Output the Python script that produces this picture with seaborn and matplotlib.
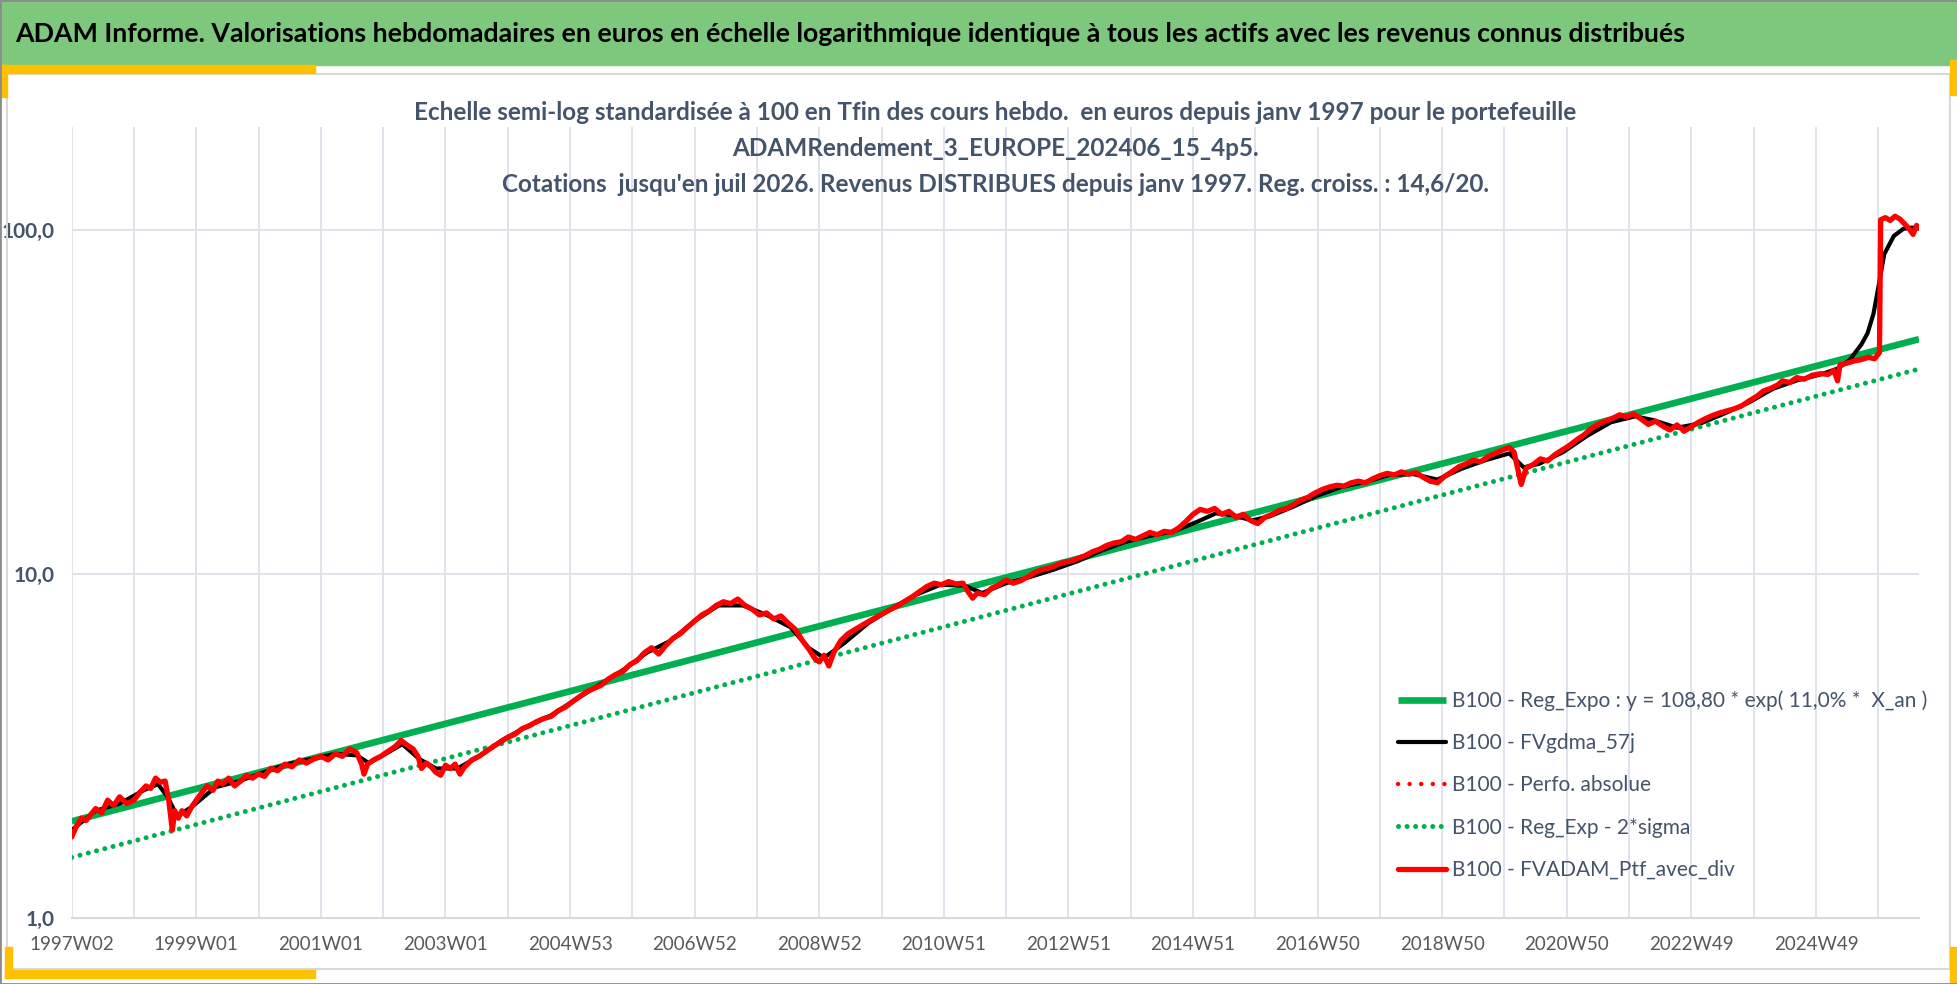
import numpy as np
import pandas as pd
import matplotlib
matplotlib.use('Agg')
import matplotlib.pyplot as plt
from matplotlib.patches import Rectangle
import seaborn as sns

# (semaine depuis 1997W02, valeur)
points_ptf = [
    (0, 1.72), (4, 1.85), (8, 1.95), (12, 1.92), (16, 2.0), (20, 2.08), (25, 2.02), (30, 2.2), (35, 2.12),
    (40, 2.25), (46, 2.15), (52, 2.2), (57, 2.32), (62, 2.42), (66, 2.38), (70, 2.55), (74, 2.48), (78, 2.5),
    (81, 2.2), (84, 1.8), (86, 2.05), (89, 1.95), (92, 2.05), (96, 1.98), (100, 2.1), (104, 2.2), (108, 2.3),
    (113, 2.42), (118, 2.35), (122, 2.5), (126, 2.45), (131, 2.55), (136, 2.42), (141, 2.5), (146, 2.6),
    (151, 2.55), (156, 2.62), (161, 2.58), (166, 2.72), (172, 2.68), (178, 2.8), (184, 2.75), (190, 2.88),
    (196, 2.82), (202, 2.9), (208, 2.95), (214, 2.88), (220, 3.0), (226, 2.95), (232, 3.1), (238, 3.02),
    (242, 2.8), (244, 2.62), (247, 2.8), (252, 2.88), (258, 2.95), (264, 3.05), (270, 3.15), (275, 3.28),
    (280, 3.18), (285, 3.1), (289, 2.95), (292, 2.72), (296, 2.82), (300, 2.75), (304, 2.65), (308, 2.6),
    (312, 2.78), (316, 2.72), (320, 2.8), (324, 2.62), (328, 2.75), (334, 2.88), (340, 2.95), (346, 3.05),
    (352, 3.15), (358, 3.25), (364, 3.35), (370, 3.42), (376, 3.55), (382, 3.62), (388, 3.72), (394, 3.8),
    (400, 3.85), (406, 4.0), (412, 4.1), (418, 4.25), (424, 4.4), (430, 4.55), (436, 4.65), (442, 4.75),
    (448, 4.95), (454, 5.1), (460, 5.2), (466, 5.45), (472, 5.6), (478, 5.9), (484, 6.1), (490, 5.85),
    (496, 6.2), (502, 6.5), (508, 6.7), (514, 7.0), (520, 7.3), (526, 7.6), (532, 7.8), (538, 8.1),
    (544, 8.3), (550, 8.2), (556, 8.45), (562, 8.1), (568, 7.9), (574, 7.6), (580, 7.7), (586, 7.4),
    (592, 7.55), (598, 7.2), (604, 6.9), (610, 6.4), (616, 6.0), (620, 5.7), (624, 5.55), (628, 5.8),
    (632, 5.4), (636, 5.9), (642, 6.4), (648, 6.7), (654, 6.9), (660, 7.1), (666, 7.3), (672, 7.5),
    (678, 7.7), (684, 7.9), (690, 8.1), (696, 8.35), (702, 8.6), (708, 8.9), (714, 9.2), (720, 9.4),
    (726, 9.3), (732, 9.5), (738, 9.35), (744, 9.4), (748, 8.9), (752, 8.5), (756, 8.8), (762, 8.7),
    (768, 9.1), (774, 9.3), (780, 9.6), (786, 9.4), (792, 9.55), (798, 9.8), (804, 10.1), (810, 10.3),
    (816, 10.4), (822, 10.6), (828, 10.8), (834, 10.9), (840, 11.1), (846, 11.3), (852, 11.6), (858, 11.8),
    (864, 12.1), (870, 12.3), (876, 12.4), (882, 12.8), (888, 12.6), (894, 12.9), (900, 13.2), (906, 13.0),
    (912, 13.3), (918, 13.2), (924, 13.6), (930, 14.2), (936, 14.9), (942, 15.4), (948, 15.2), (954, 15.5),
    (960, 14.9), (966, 15.2), (972, 14.6), (978, 14.9), (984, 14.3), (990, 14.0), (996, 14.6), (1002, 14.9),
    (1008, 15.3), (1014, 15.5), (1020, 15.9), (1026, 16.4), (1032, 16.7), (1038, 17.2), (1044, 17.6),
    (1050, 17.9), (1056, 18.1), (1062, 18.0), (1068, 18.4), (1074, 18.6), (1080, 18.4), (1086, 18.9),
    (1092, 19.3), (1098, 19.6), (1104, 19.4), (1110, 19.8), (1116, 19.5), (1122, 19.7), (1128, 19.1),
    (1134, 18.6), (1140, 18.4), (1146, 19.2), (1152, 19.8), (1158, 20.5), (1164, 20.9), (1170, 21.4),
    (1176, 21.2), (1182, 21.9), (1188, 22.4), (1194, 22.9), (1200, 23.3), (1204, 22.6), (1208, 19.5),
    (1210, 18.2), (1214, 20.3), (1220, 20.8), (1226, 21.6), (1232, 21.3), (1238, 22.2), (1244, 22.9),
    (1250, 23.6), (1256, 24.5), (1262, 25.3), (1268, 26.4), (1274, 27.2), (1280, 27.8), (1286, 28.3),
    (1292, 29.0), (1298, 28.6), (1304, 29.2), (1310, 28.2), (1316, 27.2), (1322, 27.8), (1328, 26.9),
    (1334, 26.2), (1340, 27.1), (1346, 26.0), (1352, 26.8), (1358, 27.6), (1364, 28.3), (1370, 28.9),
    (1376, 29.4), (1382, 29.8), (1388, 30.2), (1394, 30.8), (1400, 31.8), (1407, 32.9), (1412, 34.0),
    (1418, 34.6), (1424, 35.4), (1428, 36.4), (1434, 36.0), (1440, 37.2), (1446, 36.8), (1453, 37.8),
    (1460, 38.2), (1466, 38.0), (1471, 39.0), (1474, 36.4), (1476, 40.5), (1482, 41.0), (1488, 41.6),
    (1494, 42.0), (1500, 42.6), (1505, 42.2), (1509, 44.0), (1510, 107.0), (1514, 108.5), (1518, 106.5),
    (1522, 109.5), (1526, 107.5), (1530, 104.0), (1534, 100.5), (1537, 97.0), (1540, 103.0), (1542, 101.0),
]
semaines_ptf = [p[0] for p in points_ptf]
valeurs_ptf = [p[1] for p in points_ptf]

points_lisse = [
    (0, 1.8), (20, 2.05), (40, 2.15), (60, 2.35), (72, 2.45), (80, 2.25), (88, 1.98), (100, 2.1), (120, 2.4),
    (140, 2.5), (160, 2.65), (180, 2.8), (200, 2.9), (220, 3.0), (238, 2.97), (248, 2.82), (262, 3.0),
    (276, 3.2), (290, 2.9), (304, 2.72), (322, 2.72), (340, 2.95), (360, 3.3), (380, 3.6), (400, 3.88),
    (420, 4.3), (440, 4.75), (460, 5.25), (480, 5.9), (500, 6.4), (520, 7.3), (540, 8.1), (560, 8.1),
    (580, 7.6), (600, 7.0), (615, 6.1), (628, 5.7), (645, 6.3), (665, 7.2), (685, 7.95), (705, 8.7),
    (725, 9.3), (745, 9.25), (760, 8.8), (780, 9.4), (800, 9.8), (820, 10.3), (840, 10.9), (860, 11.7),
    (880, 12.4), (900, 12.9), (920, 13.3), (940, 14.2), (955, 15.0), (970, 14.8), (985, 14.3), (1000, 14.7),
    (1020, 15.7), (1040, 16.9), (1060, 17.9), (1080, 18.5), (1100, 19.4), (1120, 19.5), (1140, 18.8),
    (1160, 20.2), (1180, 21.4), (1200, 22.4), (1212, 20.4), (1225, 20.9), (1245, 22.6), (1265, 25.2),
    (1285, 27.6), (1305, 28.7), (1320, 28.0), (1340, 26.6), (1360, 27.4), (1380, 29.3), (1400, 31.5),
    (1420, 34.5), (1440, 36.5), (1460, 38.0), (1474, 39.5), (1484, 41.8), (1494, 46.5), (1499, 50.0),
    (1504, 57.0), (1509, 71.0), (1513, 85.0), (1521, 96.0), (1529, 100.7), (1536, 101.5), (1542, 101.0),
]
semaines_lisse = [p[0] for p in points_lisse]
valeurs_lisse = [p[1] for p in points_lisse]

# Droites de regression (extremites)
semaines_reg = [0, 1542]
reg_expo = [1.91, 48.1]
reg_moins_2sigma = [1.5, 39.4]

etiquettes_x = ['1997W02', '1999W01', '2001W01', '2003W01', '2004W53', '2006W52', '2008W52', '2010W51',
                '2012W51', '2014W51', '2016W50', '2018W50', '2020W50', '2022W49', '2024W49']
etiquettes_y = ['1,0', '10,0', '100,0']

titre = ("ADAM Informe. Valorisations hebdomadaires en euros en échelle logarithmique identique "
         "à tous les actifs avec les revenus connus distribués")
sous_titre = ["Echelle semi-log standardisée à 100 en Tfin des cours hebdo.  en euros depuis janv 1997 pour le portefeuille",
              "ADAMRendement_3_EUROPE_202406_15_4p5.",
              "Cotations  jusqu'en juil 2026. Revenus DISTRIBUES depuis janv 1997. Reg. croiss. : 14,6/20."]
noms = ["B100 - Reg_Expo : y = 108,80 * exp( 11,0% *  X_an )",
        "B100 - FVgdma_57j",
        "B100 - Perfo. absolue",
        "B100 - Reg_Exp - 2*sigma",
        "B100 - FVADAM_Ptf_avec_div"]

sns.set_style('white')
plt.rcParams['font.family'] = ['Lato', 'DejaVu Sans']

W, H = 1958, 984
fig = plt.figure(figsize=(W / 100, H / 100), dpi=100)
ax = fig.add_axes([71.7 / W, 1 - 918 / H, (1919 - 71.7) / W, (918 - 127) / H])

df_ptf = pd.DataFrame({'semaine': semaines_ptf, 'valeur': valeurs_ptf})
df_lisse = pd.DataFrame({'semaine': semaines_lisse, 'valeur': valeurs_lisse})
df_reg = pd.DataFrame({'semaine': semaines_reg, 'expo': reg_expo, 'sigma': reg_moins_2sigma})

vert = '#00B050'
sns.lineplot(data=df_reg, x='semaine', y='expo', ax=ax, color=vert, lw=4.8, label=noms[0],
             solid_capstyle='butt')
sns.lineplot(data=df_lisse, x='semaine', y='valeur', ax=ax, color='black', lw=3.0, label=noms[1])
sns.lineplot(data=df_ptf, x='semaine', y='valeur', ax=ax, color='red', lw=3.2, ls=(0, (0.01, 2.6)),
             label=noms[2], dash_capstyle='round')
sns.lineplot(data=df_reg, x='semaine', y='sigma', ax=ax, color=vert, lw=3.6, ls=(0, (0.01, 1.7)),
             label=noms[3], dash_capstyle='round')
sns.lineplot(data=df_ptf, x='semaine', y='valeur', ax=ax, color='red', lw=3.8, label=noms[4])

ax.set_yscale('log')
ax.set_ylim(1, 199)
ax.set_xlim(0, 1542)
ax.set_yticks([1, 10, 100])
ax.set_yticklabels(etiquettes_y, fontsize=15, fontweight='bold', color='#44546A')
ax.yaxis.set_minor_locator(matplotlib.ticker.NullLocator())
pos_x = list(range(0, 1543, 52))
lab_x = []
for i in range(len(pos_x)):
    lab_x.append(etiquettes_x[i // 2] if i % 2 == 0 else '')
ax.set_xticks(pos_x)
ax.set_xticklabels(lab_x, fontsize=13.5, color='#595959')
ax.tick_params(axis='x', length=3.6, color='#D9D9D9', pad=9)
ax.tick_params(axis='y', length=0, pad=12)
ax.grid(True, color='#DDE1EA', lw=1.3)
ax.set_axisbelow(True)
for s in ['top', 'right', 'left']:
    ax.spines[s].set_visible(False)
ax.spines['bottom'].set_color('#D9D9D9')
ax.spines['bottom'].set_linewidth(1.5)
ax.set_xlabel('')
ax.set_ylabel('')

leg = ax.legend(loc='lower left', bbox_to_anchor=((1398 - 71.7) / (1919 - 71.7), (918 - 880) / (918 - 127)),
                frameon=False, fontsize=15, labelspacing=1.07, handlelength=2.3, handletextpad=0.3,
                borderaxespad=0, borderpad=0)
for t in leg.get_texts():
    t.set_color('#44546A')

# decor : bandeau vert, coins jaunes, cadre
fig.add_artist(Rectangle((0, 1 - 65 / H), 1, 65 / H, transform=fig.transFigure, color='#7EC87E', zorder=0))
fig.text(15 / W, 1 - 34 / H, titre, fontsize=19.3, fontweight='bold', color='black', va='center', ha='left')
jaune = '#FFC000'
for (x0, y0, w0, h0) in [(0, 65, 315, 8), (0, 65, 7, 32), (5, 970, 310, 8), (5, 947, 7, 31),
                         (1950, 60, 8, 35), (1950, 947, 8, 37)]:
    fig.add_artist(Rectangle((x0 / W, 1 - (y0 + h0) / H), w0 / W, h0 / H, transform=fig.transFigure,
                             color=jaune, zorder=1))
fig.add_artist(Rectangle((7 / W, 1 - 969 / H), (1950 - 7) / W, (969 - 74) / H, transform=fig.transFigure,
                         fill=False, ec='#D9D9D9', lw=1.5, zorder=0.5))
fig.add_artist(Rectangle((0, 0), 1, 1, transform=fig.transFigure, fill=False, ec='#8C8C8C', lw=2, zorder=2))

for i, ligne in enumerate(sous_titre):
    fig.text(995 / W, 1 - (112 + 36 * i) / H, ligne, fontsize=17.5, fontweight='bold', color='#44546A',
             ha='center', va='center')

fig.savefig('out.png', dpi=100, facecolor='white')
